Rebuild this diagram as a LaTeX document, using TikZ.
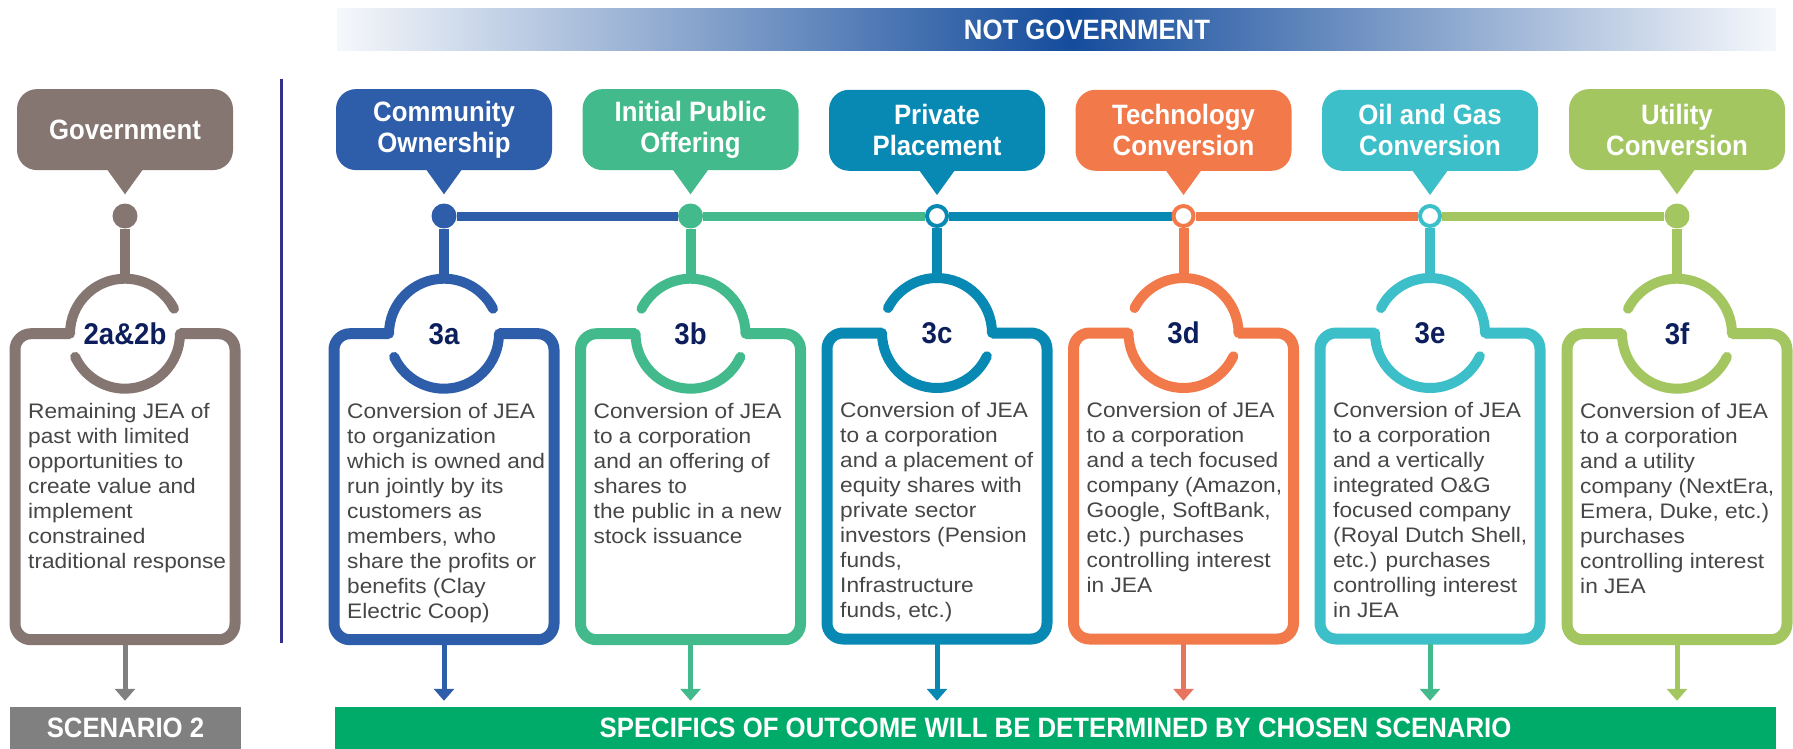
\documentclass[tikz,border=0pt]{standalone}
\usepackage{fontspec}
\setmainfont{Liberation Sans}
\newfontfamily\headfont{Liberation Sans}[FakeStretch=0.92]
\newfontfamily\bodyfont{Liberation Sans}[FakeStretch=1.08]
\usetikzlibrary{arrows.meta,positioning,calc,backgrounds}
\definecolor{colg}{HTML}{857672}
\definecolor{cola}{HTML}{2E5DA9}
\definecolor{colb}{HTML}{43BA8C}
\definecolor{colc}{HTML}{0789B4}
\definecolor{cold}{HTML}{F27A4A}
\definecolor{cole}{HTML}{3DBFC9}
\definecolor{colf}{HTML}{A4C661}
\definecolor{arrg}{HTML}{808080}
\definecolor{arra}{HTML}{2E5DA9}
\definecolor{arrb}{HTML}{43BA8C}
\definecolor{arrc}{HTML}{0789B4}
\definecolor{arrd}{HTML}{E8735E}
\definecolor{arre}{HTML}{43BA8C}
\definecolor{arrf}{HTML}{A4C661}
\definecolor{labc}{HTML}{0C1F5C}
\definecolor{bodyc}{HTML}{464646}
\definecolor{scnc}{HTML}{808080}
\definecolor{specc}{HTML}{00AB69}
\definecolor{banc}{HTML}{144C9C}
\definecolor{divc}{HTML}{35308A}
\tikzset{
  headtxt/.style={text=white, font=\headfont\bfseries\fontsize{28}{31}\selectfont},
  callout/.style={headtxt, rounded corners=20pt, minimum width=216pt, minimum height=81pt, inner sep=0pt, align=center},
  panel/.style={draw, fill=white, line width=11pt, rounded corners=16pt, minimum width=220pt, minimum height=306pt, outer sep=0pt},
  ring/.style={circle, fill=white, minimum size=110pt, inner sep=0pt, text=labc, font=\headfont\bfseries\fontsize{30}{32}\selectfont},
  arcline/.style={line width=10pt, line cap=round},
  stem/.style={line width=10pt},
  seg/.style={line width=9pt},
  dotfull/.style={circle, fill=#1, minimum size=25pt, inner sep=0pt},
  dotring/.style={circle, draw=#1, fill=white, line width=4pt, minimum size=20pt, inner sep=0pt},
  arr/.style={line width=5pt, -{Triangle[width=20pt,length=12pt]}},
  bar/.style={headtxt, minimum height=42pt, inner sep=0pt},
  bodytxt/.style={align=left, inner sep=0pt, text=bodyc, font=\bodyfont\fontsize{21}{25}\selectfont},
}
% one column: id, x, mirror, dot style, heading, label, text, target bar
\newcommand{\stagecol}[8]{%
  \node[#4=col#1] (dot#1) at (#2,-216) {};
  \node[callout, fill=col#1, above=33pt of dot#1] (call#1) {#5};
  \fill[col#1] ($(call#1.south)+(-18,1)$) -- ($(call#1.south)+(0,-24)$) -- ($(call#1.south)+(18,1)$) -- cycle;
  \node[panel, draw=col#1, below=105pt of dot#1] (box#1) {};
  \node[ring] (ring#1) at (box#1.north) {#6};
  \begin{scope}[shift={(ring#1.center)}, xscale=#3]
    \draw[arcline, col#1] (180:55) arc[start angle=180, end angle=27, radius=55];
    \draw[arcline, col#1] (0:55) arc[start angle=0, end angle=-155, radius=55];
  \end{scope}
  \node[bodytxt, anchor=north west] (txt#1) at ($(box#1.north west)+(13,-69)$) {#7};
  \draw[stem, col#1] (dot#1.south) -- (ring#1.north);
  \draw[arr, arr#1, shorten >=6pt] ($(box#1.south)+(0,-5)$) -- (box#1.south |- #8.north);
}

\begin{document}
\begin{tikzpicture}[x=1pt, y=1pt]
  \useasboundingbox (0,0) rectangle (1793,-749);
  % banner
  \shade[left color=white!96!banc, right color=banc] (337,-9) rectangle (1072,-51);
  \shade[left color=banc, right color=white!96!banc] (1071,-9) rectangle (1776,-51);
  \node[headtxt] (bantxt) at (1087,-30) {NOT GOVERNMENT};
  \coordinate (divtop) at (281,-79);
  \coordinate (divbot) at (281,-643);
  \draw[divc, line width=3pt] (divtop) -- (divbot);
  % outcome bars
  \node[bar, fill=scnc, minimum width=231pt] (scnbar) at (125.5,-728) {SCENARIO 2};
  \node[bar, fill=specc, minimum width=1441pt] (specbar) at (1055.5,-728) {SPECIFICS OF OUTCOME WILL BE DETERMINED BY CHOSEN SCENARIO};
  % columns
  \stagecol{g}{125}{1}{dotfull}{Government}{2a\&2b}{Remaining JEA of\\past with limited\\opportunities to\\create value and\\implement\\constrained\\traditional response}{scnbar}
  \stagecol{a}{444}{1}{dotfull}{Community\\Ownership}{3a}{Conversion of JEA\\to organization\\which is owned and\\run jointly by its\\customers as\\members, who\\share the profits or\\benefits (Clay\\Electric Coop)}{specbar}
  \stagecol{b}{690.5}{-1}{dotfull}{Initial Public\\Offering}{3b}{Conversion of JEA\\to a corporation\\and an offering of\\shares to\\the public in a new\\stock issuance}{specbar}
  \stagecol{c}{937}{-1}{dotring}{Private\\Placement}{3c}{Conversion of JEA\\to a corporation\\and a placement of\\equity shares with\\private sector\\investors (Pension\\funds,\\Infrastructure\\funds, etc.)}{specbar}
  \stagecol{d}{1183.5}{-1}{dotring}{Technology\\Conversion}{3d}{Conversion of JEA\\to a corporation\\and a tech focused\\company (Amazon,\\Google, SoftBank,\\etc.) purchases\\controlling interest\\in JEA}{specbar}
  \stagecol{e}{1430}{-1}{dotring}{Oil and Gas\\Conversion}{3e}{Conversion of JEA\\to a corporation\\and a vertically\\integrated O\&G\\focused company\\(Royal Dutch Shell,\\etc.) purchases\\controlling interest\\in JEA}{specbar}
  \stagecol{f}{1677}{-1}{dotfull}{Utility\\Conversion}{3f}{Conversion of JEA\\to a corporation\\and a utility\\company (NextEra,\\Emera, Duke, etc.)\\purchases\\controlling interest\\in JEA}{specbar}
  \begin{scope}[on background layer]
    \draw[seg, cola] (dota) -- (dotb);
    \draw[seg, colb] (dotb) -- (dotc);
    \draw[seg, colc] (dotc) -- (dotd);
    \draw[seg, cold] (dotd) -- (dote);
    \draw[seg, colf] (dote) -- (dotf);
  \end{scope}
\end{tikzpicture}
\end{document}
